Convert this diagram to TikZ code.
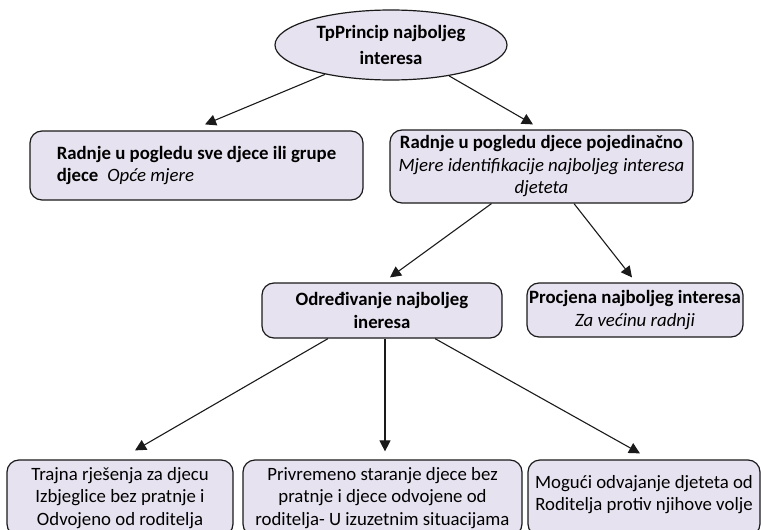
\documentclass[tikz,border=0pt]{standalone}
\usepackage{fontspec}
\setmainfont{Carlito}
\usetikzlibrary{shapes.geometric,arrows.meta,positioning}
\definecolor{boxlilac}{RGB}{231,226,239}
\definecolor{edgegray}{RGB}{26,26,26}

\begin{document}
\begin{tikzpicture}[x=1pt, y=-1pt,
    box/.style={draw=edgegray, line width=1.2pt, fill=boxlilac, rounded corners=12pt,
        font=\fontsize{18.8}{22.5}\selectfont, align=center, inner sep=1pt},
    arr/.style={edgegray, line width=1.1pt, -{Triangle[length=11pt, width=11pt]}}]
\useasboundingbox (0,0) rectangle (761,530);
\clip (0,0) rectangle (761,530);

% Root
\node[ellipse, draw=edgegray, line width=1.2pt, fill=boxlilac, minimum width=232pt,
    minimum height=70pt, inner sep=0pt, align=center, font=\fontsize{18.8}{26}\selectfont\bfseries]
    (root) at (391,45) {TpPrincip najboljeg\\interesa};

% Second level
\node[box, minimum width=333pt, minimum height=69pt, align=left] (groups) at (196.5,165.5)
    {\textbf{Radnje u pogledu sve djece ili grupe}\\\textbf{djece}\hspace{9pt}\textit{Opće mjere}};
\node[box, minimum width=303pt, minimum height=73pt] (single) at (541.5,166.5)
    {\textbf{Radnje u pogledu djece pojedinačno}\\\textit{Mjere identifikacije najboljeg interesa}\\\textit{djeteta}};

% Third level
\node[box, minimum width=240pt, minimum height=55pt] (determ) at (382,310.5)
    {\textbf{Određivanje najboljeg}\\\textbf{ineresa}};
\node[box, minimum width=216pt, minimum height=54pt] (assess) at (635,310)
    {\textbf{Procjena najboljeg interesa}\\\textit{Za većinu radnji}};

% Bottom level
\node[box, minimum width=226pt, minimum height=76pt] (durable) at (120,498)
    {Trajna rješenja za djecu\\Izbjeglice bez pratnje i\\Odvojeno od roditelja};
\node[box, minimum width=279pt, minimum height=76pt] (temp) at (382.5,498)
    {Privremeno staranje djece bez\\pratnje i djece odvojene od\\roditelja- U izuzetnim situacijama};
\node[box, minimum width=232pt, minimum height=76pt] (separ) at (644,498)
    {Mogući odvajanje djeteta od\\Roditelja protiv njihove volje\\[-12pt]\mbox{}};

% Connectors
\draw[arr] (root.204) -- ([xshift=8.5pt, yshift=6pt]groups.north);
\draw[arr] (root.332) -- ([xshift=-8.5pt, yshift=5pt]single.north);
\draw[arr] ([xshift=-50pt]single.south) -- ([xshift=8pt, yshift=5pt]determ.north);
\draw[arr] ([xshift=32.5pt]single.south) -- ([xshift=-3pt, yshift=5pt]assess.north);
\draw[arr] ([xshift=-54pt]determ.south) -- ([xshift=15pt, yshift=9pt]durable.north);
\draw[arr] ([xshift=3pt]determ.south) -- ([xshift=2.5pt, yshift=8pt]temp.north);
\draw[arr] ([xshift=53pt]determ.south) -- ([xshift=-4pt, yshift=6pt]separ.north);
\end{tikzpicture}
\end{document}
